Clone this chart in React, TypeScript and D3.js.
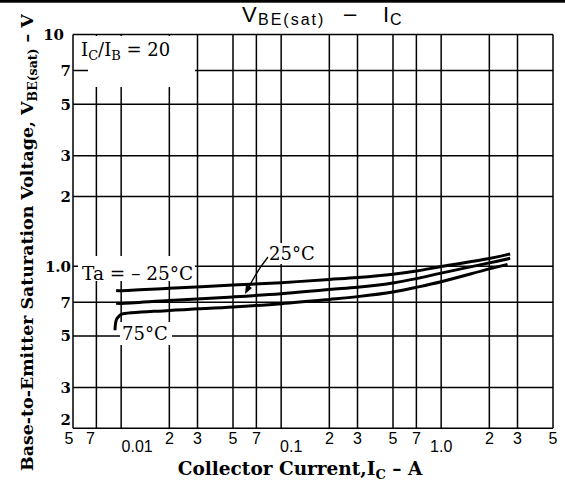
import React from "react";
import * as d3 from "d3";

const xTicks = [0.005, 0.007, 0.01, 0.02, 0.03, 0.05, 0.07, 0.1, 0.2, 0.3, 0.5, 0.7, 1, 2, 3, 5];
const xTickLabels = ["5", "7", "0.01", "2", "3", "5", "7", "0.1", "2", "3", "5", "7", "1.0", "2", "3", "5"];
const yTicks = [0.2, 0.3, 0.5, 0.7, 1, 2, 3, 5, 7, 10];
const yTickLabels = ["2", "3", "5", "7", "1.0", "2", "3", "5", "7", "10"];

const icM25 = [0.0093, 0.01, 0.02, 0.05, 0.1, 0.2, 0.3, 0.5, 0.7, 1.0, 2.0, 2.7];
const vM25 = [0.787, 0.785, 0.804, 0.83, 0.85, 0.878, 0.895, 0.925, 0.955, 0.998, 1.08, 1.13];
const ic25 = [0.0093, 0.01, 0.02, 0.05, 0.1, 0.2, 0.3, 0.5, 0.7, 1.0, 2.0, 2.7];
const v25 = [0.693, 0.692, 0.712, 0.738, 0.762, 0.795, 0.812, 0.848, 0.885, 0.935, 1.035, 1.083];
const ic75 = [0.00915, 0.0092, 0.00935, 0.0097, 0.01, 0.02, 0.05, 0.1, 0.2, 0.3, 0.5, 0.7, 1.0, 2.0, 2.6];
const v75 = [0.53, 0.56, 0.59, 0.61, 0.62, 0.645, 0.668, 0.69, 0.72, 0.74, 0.775, 0.812, 0.858, 0.975, 1.02];

const W = 565;
const H = 488;
const L = 73, R = 553, T = 34.6, B = 428.3;

const serif = "'DejaVu Serif', serif";
const sans = "'Liberation Sans', Arial, sans-serif";

export default function App() {
  const x = d3.scaleLog().domain([0.005, 5]).range([L, R]);
  const y = d3.scaleLog().domain([0.2, 10]).range([B, T]);
  const line = d3
    .line<[number, number]>()
    .x((d) => x(d[0]))
    .y((d) => y(d[1]))
    .curve(d3.curveCatmullRom.alpha(0.5));
  const series = [
    icM25.map((c, i) => [c, vM25[i]] as [number, number]),
    ic25.map((c, i) => [c, v25[i]] as [number, number]),
    ic75.map((c, i) => [c, v75[i]] as [number, number]),
  ];
  const decade = (v: number) => v === 0.01 || v === 0.1 || v === 1;
  const decadeDx: Record<string, number> = { "0.01": 16, "0.1": 10, "1.0": 0 };
  const xLabelDx = (i: number) => (i === 0 ? -4 : i === 1 ? -6 : 0);

  return (
    <svg
      width={W}
      height={H}
      style={{ position: "absolute", left: 0, top: 0, background: "#fff" }}
    >
      <rect x={0} y={0} width={W} height={H} fill="#fff" />
      <rect x={0} y={0} width={W} height={2.7} fill="#000" />
      {/* grid */}
      <g stroke="#000" strokeWidth={1.5}>
        {xTicks.map((t) => (
          <line key={"x" + t} x1={x(t)} x2={x(t)} y1={T} y2={B} />
        ))}
        {yTicks.map((t) => (
          <line key={"y" + t} x1={L} x2={R} y1={y(t)} y2={y(t)} />
        ))}
      </g>
      {/* label backgrounds */}
      <rect x={88} y={36} width={107} height={51} fill="#fff" />
      <rect x={78} y={256} width={117} height={25} fill="#fff" />
      <rect x={266} y={243} width={50} height={21} fill="#fff" />
      <rect x={120} y={322} width={52} height={23} fill="#fff" />
      {/* curves */}
      {series.map((s, i) => (
        <path key={i} d={line(s) || ""} fill="none" stroke="#000" strokeWidth={3} />
      ))}
      {/* arrow */}
      <path d="M268,257 Q256,272 248,289" fill="none" stroke="#000" strokeWidth={1.3} />
      <path d="M245,294 L246,284 L252,288 Z" fill="#000" />
      {/* annotations */}
      <text x={81} y={56} fontFamily={serif} fontSize={18} fill="#000">
        I<tspan fontSize={13} dy={4}>C</tspan>
        <tspan dy={-4}>/I</tspan>
        <tspan fontSize={13} dy={4}>B</tspan>
        <tspan dy={-4}> = 20</tspan>
      </text>
      <text x={82} y={280} fontFamily={serif} fontSize={18.5} fill="#000">
        Ta = – 25°C
      </text>
      <text x={269} y={260} fontFamily={serif} fontSize={18} fill="#000">
        25°C
      </text>
      <text x={122} y={340} fontFamily={serif} fontSize={18} fill="#000">
        75°C
      </text>
      {/* y tick labels */}
      {yTicks.map((t, i) => (
        <text
          key={"yl" + t}
          x={t === 10 ? 64 : 71}
          y={y(t) + (t === 0.2 ? -9 : 0)}
          dy="0.36em"
          textAnchor="end"
          fontFamily={serif}
          fontWeight="bold"
          fontSize={15}
          fill="#000"
        >
          {yTickLabels[i]}
        </text>
      ))}
      {/* x tick labels */}
      {xTicks.map((t, i) => (
        <text
          key={"xl" + t}
          x={x(t) + (decade(t) ? decadeDx[xTickLabels[i]] : xLabelDx(i))}
          y={decade(t) ? 452 : 444}
          textAnchor="middle"
          fontFamily={sans}
          fontSize={16}
          fill="#000"
        >
          {xTickLabels[i]}
        </text>
      ))}
      {/* title */}
      <g fontFamily={sans} fill="#000">
        <text x={242} y={22} fontSize={22}>V</text>
        <text x={258} y={24.5} fontSize={16} letterSpacing={2}>BE(sat)</text>
        <text x={344} y={21} fontSize={22}>–</text>
        <text x={383} y={22} fontSize={22}>I</text>
        <text x={390} y={24.5} fontSize={16} letterSpacing={2}>C</text>
      </g>
      {/* x axis title */}
      <text x={300} y={475} textAnchor="middle" fontFamily={serif} fontWeight="bold" fontSize={18.5} fill="#000">
        Collector Current,I<tspan fontSize={13} dy={4}>C</tspan>
        <tspan dy={-4}> – A</tspan>
      </text>
      {/* y axis title */}
      <text
        transform="translate(33,471) rotate(-90)"
        x={0}
        y={0}
        fontFamily={serif}
        fontWeight="bold"
        fontSize={17.4}
        fill="#000"
      >
        Base-to-Emitter Saturation Voltage, V<tspan fontSize={12.5} dy={4}>BE(sat)</tspan>
        <tspan dy={-4}> – V</tspan>
      </text>
    </svg>
  );
}
